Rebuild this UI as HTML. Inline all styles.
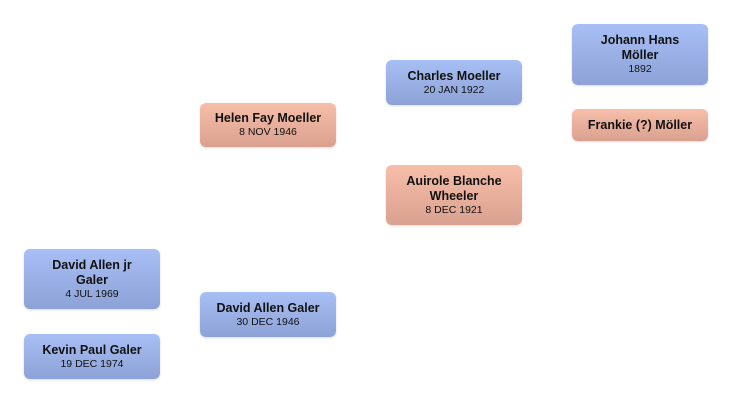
<!DOCTYPE html>
<html>
<head>
<meta charset="utf-8">
<style>
  html, body { margin:0; padding:0; background:#fff; }
  body { width:732px; height:403px; position:relative; overflow:hidden;
         font-family:"Liberation Sans", "DejaVu Sans", sans-serif; color:#111; }
  .box { position:absolute; width:136px; border-radius:6px;
         display:flex; flex-direction:column; align-items:center; justify-content:center;
         text-align:center; box-shadow:0 1px 2px rgba(0,0,0,0.15); }
  .m { background:linear-gradient(#a8bff5, #8da2d6); }
  .f { background:linear-gradient(#f7bea9, #d9a18f); }
  .n { font-weight:bold; font-size:12.5px; line-height:15px; }
  .d { font-size:10.5px; line-height:13px; }
</style>
</head>
<body>
  <div class="box m" style="left:572px;top:24px;height:61px;">
    <div class="n">Johann Hans<br>Möller</div><div class="d">1892</div>
  </div>
  <div class="box f" style="left:572px;top:109px;height:32px;">
    <div class="n">Frankie (?) Möller</div>
  </div>
  <div class="box m" style="left:386px;top:60px;height:45px;">
    <div class="n">Charles Moeller</div><div class="d">20 JAN 1922</div>
  </div>
  <div class="box f" style="left:386px;top:165px;height:60px;">
    <div class="n">Auirole Blanche<br>Wheeler</div><div class="d">8 DEC 1921</div>
  </div>
  <div class="box f" style="left:200px;top:103px;height:44px;">
    <div class="n">Helen Fay Moeller</div><div class="d">8 NOV 1946</div>
  </div>
  <div class="box m" style="left:200px;top:292px;height:45px;">
    <div class="n">David Allen Galer</div><div class="d">30 DEC 1946</div>
  </div>
  <div class="box m" style="left:24px;top:249px;height:60px;">
    <div class="n">David Allen jr<br>Galer</div><div class="d">4 JUL 1969</div>
  </div>
  <div class="box m" style="left:24px;top:334px;height:45px;">
    <div class="n">Kevin Paul Galer</div><div class="d">19 DEC 1974</div>
  </div>
</body>
</html>
